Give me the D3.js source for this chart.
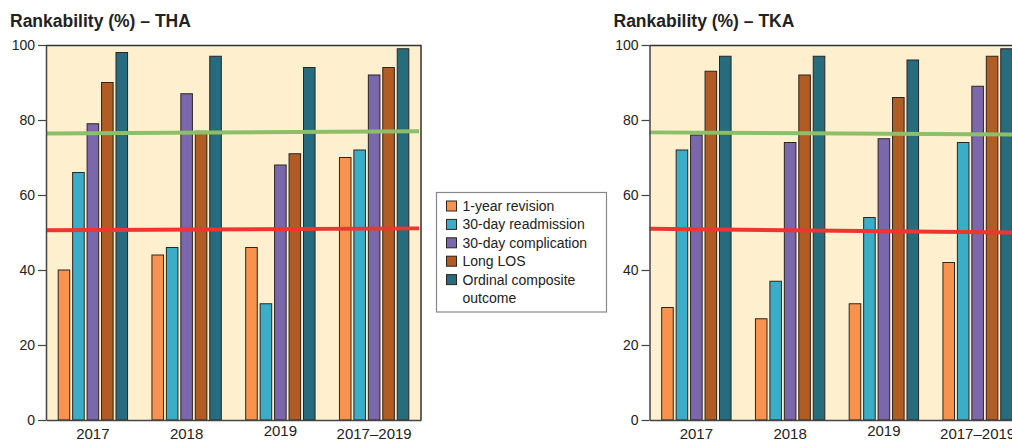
<!DOCTYPE html>
<html>
<head>
<meta charset="utf-8">
<script src="https://cdn.jsdelivr.net/npm/d3@7"></script>
<style>
  body { margin: 0; background: #fff; }
  svg { display: block; font-family: "Liberation Sans", Arial, sans-serif; }
</style>
</head>
<body>
<div id="chart"></div>
<script>
// ---- data ----
var periods = ["2017", "2018", "2019", "2017\u20132019"];
var measures = ["1-year revision", "30-day readmission", "30-day complication", "Long LOS", "Ordinal composite outcome"];
var colors = ["#F7924F", "#3AADC9", "#7B67AC", "#B15B25", "#276B7E"];

// values per measure, one per period
var thaValues = [
  [40, 44, 46, 70],
  [66, 46, 31, 72],
  [79, 87, 68, 92],
  [90, 77, 71, 94],
  [98, 97, 94, 99]
];
var tkaValues = [
  [30, 27, 31, 42],
  [72, 37, 54, 74],
  [76, 74, 75, 89],
  [93, 92, 86, 97],
  [97, 97, 96, 99]
];
// reference lines: [value at left edge, value at right edge]
var thaGreen = [76.4, 77.0];
var thaRed = [50.6, 51.1];
var tkaGreen = [76.7, 76.1];
var tkaRed = [51.0, 50.0];
var yTicks = [0, 20, 40, 60, 80, 100];

var W = 1012, H = 440;
var plotW = 375, plotH = 375, plotTop = 45;

var svg = d3.select("#chart").append("svg")
    .attr("width", W)
    .attr("height", H);

function drawPanel(left, title, values, green, red) {
    var g = svg.append("g")
        .attr("transform", "translate(" + left + "," + plotTop + ")");

    var x = d3.scaleBand()
        .domain(periods)
        .range([0, plotW])
        .paddingInner(0.26)
        .paddingOuter(0.13);

    var x1 = d3.scaleBand()
        .domain(d3.range(measures.length))
        .range([0, x.bandwidth()])
        .paddingInner(0.2)
        .paddingOuter(0);

    var y = d3.scaleLinear()
        .domain([0, 100])
        .range([plotH, 0]);

    // background
    g.append("rect")
        .attr("width", plotW)
        .attr("height", plotH)
        .attr("fill", "#FEEFCF");

    // bars
    var rows = [];
    values.forEach(function (arr, mi) {
        arr.forEach(function (v, pi) {
            rows.push({m: mi, p: periods[pi], v: v});
        });
    });

    g.selectAll(".bar")
        .data(rows)
        .enter()
        .append("rect")
        .attr("class", "bar")
        .attr("x", d => x(d.p) + x1(d.m))
        .attr("y", d => y(d.v))
        .attr("width", x1.bandwidth())
        .attr("height", d => plotH - y(d.v))
        .attr("fill", d => colors[d.m])
        .attr("stroke", "#2b2620")
        .attr("stroke-width", 1);

    // reference lines
    [[green, "#8CBF68", 4], [red, "#EE3530", 4]].forEach(function (ln) {
        g.append("line")
            .attr("x1", 0)
            .attr("x2", plotW - 2)
            .attr("y1", y(ln[0][0]))
            .attr("y2", y(ln[0][1]))
            .attr("stroke", ln[1])
            .attr("stroke-width", ln[2]);
    });

    // frame top / right
    g.append("path")
        .attr("d", "M0,0.5H" + plotW + "V" + plotH)
        .attr("fill", "none")
        .attr("stroke", "#333")
        .attr("stroke-width", 1.5);

    // y axis
    var yAxis = g.append("g")
        .call(d3.axisLeft(y).tickValues(yTicks).tickSize(8).tickPadding(3).tickSizeOuter(0));
    yAxis.select(".domain").attr("stroke", "#444").attr("stroke-width", 1.5);
    yAxis.selectAll(".tick line").attr("stroke", "#444").attr("stroke-width", 1.2);
    yAxis.selectAll("text")
        .attr("font-size", "14px")
        .attr("fill", "#222")
        .style("font-family", "'Liberation Sans', Arial, sans-serif");

    // x axis
    var xAxis = g.append("g")
        .attr("transform", "translate(0," + plotH + ")")
        .call(d3.axisBottom(x).tickSize(0).tickPadding(8));
    xAxis.select(".domain").attr("stroke", "#444").attr("stroke-width", 1.5);
    xAxis.selectAll("text")
        .attr("font-size", "15px")
        .attr("fill", "#222")
        .attr("dy", d => d === "2019" ? "0.5em" : "0.71em")
        .style("font-family", "'Liberation Sans', Arial, sans-serif");

    // title
    svg.append("text")
        .attr("x", left - 36)
        .attr("y", 27)
        .attr("font-size", "17.5px")
        .attr("font-weight", "bold")
        .attr("fill", "#222")
        .text(title);
}

drawPanel(46, "Rankability (%) \u2013 THA", thaValues, thaGreen, thaRed);
drawPanel(649.5, "Rankability (%) \u2013 TKA", tkaValues, tkaGreen, tkaRed);

// legend
var legend = svg.append("g").attr("transform", "translate(436.5,192.5)");
legend.append("rect")
    .attr("width", 170)
    .attr("height", 119.5)
    .attr("fill", "#fff")
    .attr("stroke", "#888")
    .attr("stroke-width", 1.2);

var legendLines = [["1-year revision"], ["30-day readmission"], ["30-day complication"], ["Long LOS"], ["Ordinal composite", "outcome"]];
var item = legend.selectAll(".item")
    .data(legendLines)
    .enter()
    .append("g")
    .attr("class", "item")
    .attr("transform", (d, i) => "translate(10," + (13.5 + i * 18.4) + ")");

item.append("rect")
    .attr("x", 0)
    .attr("y", -5)
    .attr("width", 10)
    .attr("height", 10)
    .attr("fill", (d, i) => colors[i])
    .attr("stroke", "#2b2620")
    .attr("stroke-width", 1);

item.selectAll("text")
    .data(d => d)
    .enter()
    .append("text")
    .attr("x", 16)
    .attr("y", (d, j) => j * 18.4)
    .attr("dy", "0.35em")
    .attr("font-size", "14px")
    .attr("fill", "#222")
    .text(d => d);
</script>
</body>
</html>
